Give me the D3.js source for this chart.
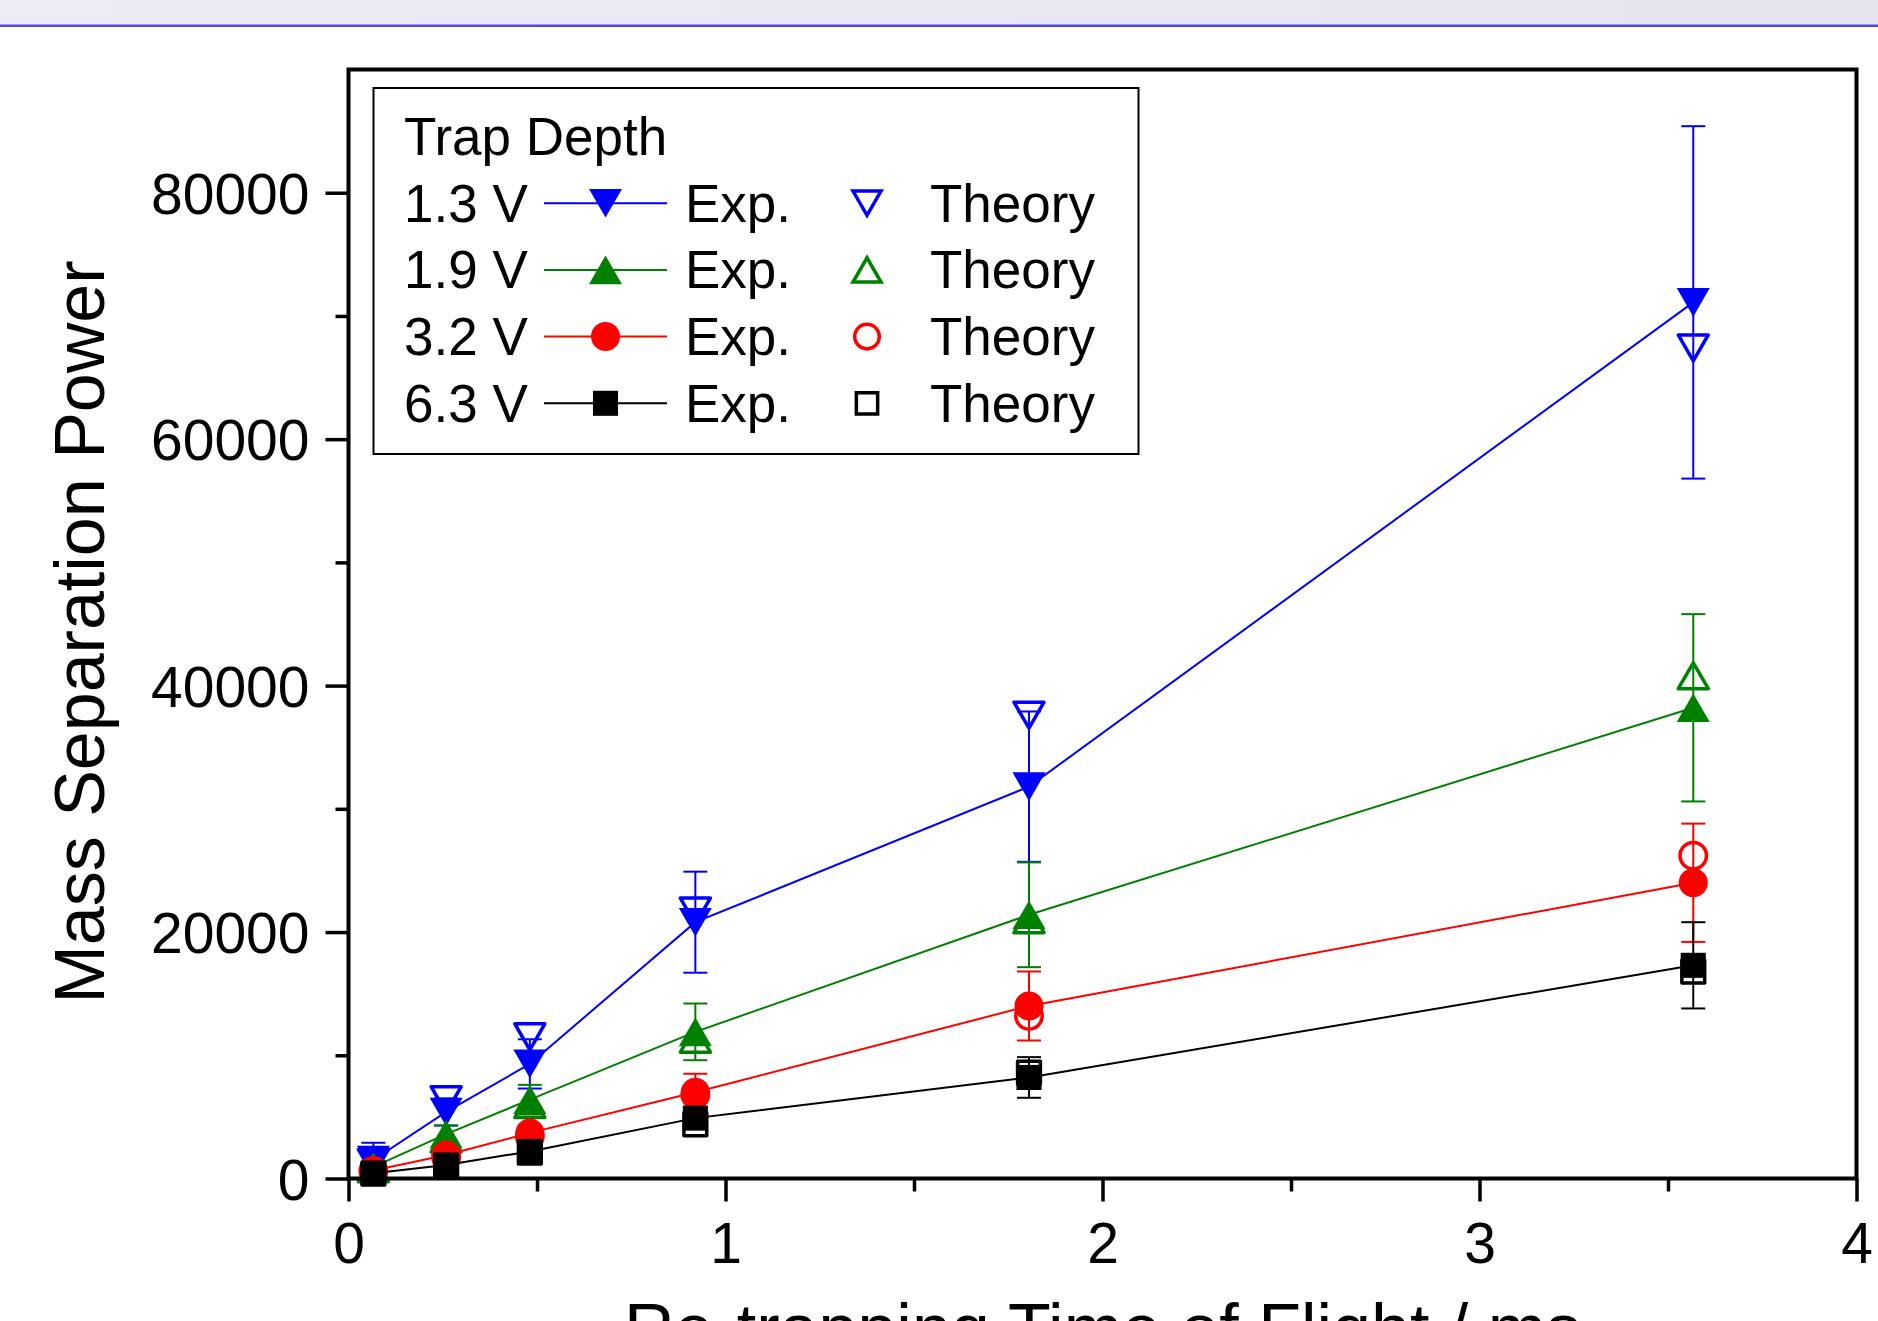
<!DOCTYPE html>
<html>
<head>
<meta charset="utf-8">
<script src="https://cdn.jsdelivr.net/npm/d3@7/dist/d3.min.js"></script>
<style>
  html, body { margin: 0; padding: 0; background: #fff; }
  svg { display: block; }
  text { font-family: "Liberation Sans", Arial, sans-serif; fill: #000; }
</style>
</head>
<body>
<svg id="chart" width="1878" height="1321"></svg>
<script>
// re-trapping time of flight (ms)
var tof = [0.066, 0.259, 0.481, 0.92, 1.805, 3.567];

// 1.3 V
var exp13 = [1500, 5400, 9300, 20800, 31800, 71100];
var err13 = [1400, 1100, 2000, 4100, 6100, 14300];
var theory13 = [1300, 6400, 11500, 21700, 37600, 67400];
// 1.9 V
var exp19 = [950, 3600, 6400, 11900, 21400, 38200];
var err19 = [500, 700, 1200, 2300, 4250, 7600];
var theory19 = [800, 3200, 6000, 11300, 21000, 40800];
// 3.2 V
var exp32 = [650, 1900, 3700, 7000, 14000, 24000];
var err32 = [300, 400, 500, 1500, 2800, 4800];
var theory32 = [600, 1700, 3400, 6800, 13200, 26200];
// 6.3 V
var exp63 = [420, 1100, 2200, 4900, 8200, 17300];
var err63 = [200, 300, 400, 700, 1650, 3500];
var theory63 = [400, 1000, 2100, 4400, 8600, 16800];

var depthLabels = ['1.3 V', '1.9 V', '3.2 V', '6.3 V'];
var xTicks = [0, 1, 2, 3, 4];
var xMinor = [0.5, 1.5, 2.5, 3.5];
var yTicks = [0, 20000, 40000, 60000, 80000];
var yMinor = [10000, 30000, 50000, 70000];

var series = [
  {label: depthLabels[0], exp: exp13, err: err13, theory: theory13, color: '#0000ff', shape: 'down'},
  {label: depthLabels[1], exp: exp19, err: err19, theory: theory19, color: '#008000', shape: 'up'},
  {label: depthLabels[2], exp: exp32, err: err32, theory: theory32, color: '#ff0000', shape: 'circle'},
  {label: depthLabels[3], exp: exp63, err: err63, theory: theory63, color: '#000000', shape: 'square'}
];

var svg = d3.select('#chart');
var W = 1878, H = 1321;
var margin = {left: 348.5, right: 1856.5, top: 69.5, bottom: 1178.5};

// header band
var grad = svg.append('defs').append('linearGradient')
    .attr('id', 'band').attr('x1', 0).attr('x2', 1).attr('y1', 0).attr('y2', 0);
grad.append('stop').attr('offset', '0%').attr('stop-color', '#ececf6');
grad.append('stop').attr('offset', '100%').attr('stop-color', '#e5e5f0');
svg.append('rect').attr('x', 0).attr('y', 0).attr('width', W).attr('height', 25)
    .style('fill', 'url(#band)');
svg.append('rect').attr('x', 0).attr('y', 24.5).attr('width', W).attr('height', 2.5)
    .style('fill', '#5646ee');

var x = d3.scaleLinear().domain([0, 4]).range([margin.left, margin.right]);
var y = d3.scaleLinear().domain([0, 90000]).range([margin.bottom, margin.top]);

// marker paths, centred on their bounding box like Origin does
function markerPath(shape, s) {
  var w, h;
  switch (shape) {
    case 'down':
      w = s; h = s * 0.866;
      return 'M' + (-w / 2) + ',' + (-h / 2) + 'L' + (w / 2) + ',' + (-h / 2) + 'L0,' + (h / 2) + 'Z';
    case 'up':
      w = s; h = s * 0.866;
      return 'M' + (-w / 2) + ',' + (h / 2) + 'L' + (w / 2) + ',' + (h / 2) + 'L0,' + (-h / 2) + 'Z';
    case 'circle':
      var r = s * 0.44;
      return 'M' + (-r) + ',0A' + r + ',' + r + ' 0 1,0 ' + r + ',0A' + r + ',' + r + ' 0 1,0 ' + (-r) + ',0Z';
    case 'square':
      w = s * 0.76;
      return 'M' + (-w / 2) + ',' + (-w / 2) + 'h' + w + 'v' + w + 'h' + (-w) + 'Z';
  }
}

var plot = svg.append('g').attr('class', 'plot');
var line = d3.line()
  .x(function(d) { return x(d.t); })
  .y(function(d) { return y(d.v); });

series.forEach(function(s) {
  var pts = tof.map(function(t, i) {
    return {t: t, v: s.exp[i], e: s.err[i], th: s.theory[i]};
  });
  var g = plot.append('g');

  g.append('path')
    .attr('d', line(pts))
    .style('fill', 'none')
    .style('stroke', s.color)
    .style('stroke-width', 2);

  var eb = g.selectAll('g.err').data(pts).enter().append('g').attr('class', 'err');
  eb.append('line')
    .attr('x1', function(d) { return x(d.t); })
    .attr('x2', function(d) { return x(d.t); })
    .attr('y1', function(d) { return y(d.v + d.e); })
    .attr('y2', function(d) { return y(d.v - d.e); });
  eb.append('line')
    .attr('x1', function(d) { return x(d.t) - 12; })
    .attr('x2', function(d) { return x(d.t) + 12; })
    .attr('y1', function(d) { return y(d.v + d.e); })
    .attr('y2', function(d) { return y(d.v + d.e); });
  eb.append('line')
    .attr('x1', function(d) { return x(d.t) - 12; })
    .attr('x2', function(d) { return x(d.t) + 12; })
    .attr('y1', function(d) { return y(d.v - d.e); })
    .attr('y2', function(d) { return y(d.v - d.e); });
  eb.selectAll('line').style('stroke', s.color).style('stroke-width', 2);

  g.selectAll('path.th').data(pts).enter().append('path')
    .attr('class', 'th')
    .attr('transform', function(d) { return 'translate(' + x(d.t) + ',' + y(d.th) + ')'; })
    .attr('d', markerPath(s.shape, 30))
    .style('fill', 'none')
    .style('stroke', s.color)
    .style('stroke-width', 3.5)
    .style('stroke-linejoin', 'round');

  g.selectAll('path.ex').data(pts).enter().append('path')
    .attr('class', 'ex')
    .attr('transform', function(d) { return 'translate(' + x(d.t) + ',' + y(d.v) + ')'; })
    .attr('d', markerPath(s.shape, 33))
    .style('fill', s.color)
    .style('stroke', 'none');
});

// axes
var xAxis = svg.append('g')
    .attr('transform', 'translate(0,' + margin.bottom + ')')
    .call(d3.axisBottom(x).tickValues(xTicks).tickSize(23).tickPadding(20)
      .tickFormat(d3.format('d')));
svg.append('g')
    .attr('transform', 'translate(0,' + margin.bottom + ')')
    .call(d3.axisBottom(x).tickValues(xMinor).tickSize(13).tickFormat(''));

var yAxis = svg.append('g')
    .attr('transform', 'translate(' + margin.left + ',0)')
    .call(d3.axisLeft(y).tickValues(yTicks).tickSize(23).tickPadding(16)
      .tickFormat(d3.format('d')));
svg.append('g')
    .attr('transform', 'translate(' + margin.left + ',0)')
    .call(d3.axisLeft(y).tickValues(yMinor).tickSize(13).tickFormat(''));

svg.selectAll('.domain').remove();
svg.selectAll('.tick line').style('stroke', '#000').style('stroke-width', 3.5);
svg.selectAll('.tick text')
    .style('font-family', '"Liberation Sans", Arial, sans-serif')
    .style('font-size', '57px')
    .style('fill', '#000');
yAxis.selectAll('.tick text').attr('dy', '0.36em');
xAxis.selectAll('.tick text').attr('dy', '0.72em');

// frame
svg.append('rect')
    .attr('x', margin.left).attr('y', margin.top)
    .attr('width', margin.right - margin.left)
    .attr('height', margin.bottom - margin.top)
    .style('fill', 'none').style('stroke', '#000').style('stroke-width', 4);

// axis titles
svg.append('text')
    .attr('transform', 'translate(104,' + ((margin.top + margin.bottom) / 2 + 8) + ') rotate(-90)')
    .attr('text-anchor', 'middle')
    .style('font-size', '70px')
    .text('Mass Separation Power');
svg.append('text')
    .attr('x', (margin.left + margin.right) / 2)
    .attr('y', 1353)
    .attr('text-anchor', 'middle')
    .style('font-size', '70px')
    .text('Re-trapping Time of Flight / ms');

// legend
var legend = svg.append('g').attr('class', 'legend');
legend.append('rect')
    .attr('x', 373.5).attr('y', 88).attr('width', 765).attr('height', 366)
    .style('fill', '#fff').style('stroke', '#000').style('stroke-width', 2);
legend.append('text')
    .attr('x', 404).attr('y', 155)
    .style('font-size', '53px')
    .text('Trap Depth');

var row = legend.selectAll('g.row').data(series).enter().append('g')
    .attr('class', 'row')
    .attr('transform', function(d, i) { return 'translate(0,' + (221.7 + i * 66.7) + ')'; });
row.append('text').attr('x', 404).style('font-size', '53px')
    .text(function(d) { return d.label; });
row.append('line')
    .attr('x1', 544).attr('x2', 667).attr('y1', -18.5).attr('y2', -18.5)
    .style('stroke', function(d) { return d.color; })
    .style('stroke-width', 2);
row.append('path')
    .attr('transform', 'translate(605.5,-18.5)')
    .attr('d', function(d) { return markerPath(d.shape, 33); })
    .style('fill', function(d) { return d.color; });
row.append('text').attr('x', 685).style('font-size', '53px').text('Exp.');
row.append('path')
    .attr('transform', 'translate(867,-18.5)')
    .attr('d', function(d) { return markerPath(d.shape, 28); })
    .style('fill', 'none')
    .style('stroke', function(d) { return d.color; })
    .style('stroke-width', 3.5);
row.append('text').attr('x', 930).style('font-size', '53px').text('Theory');
</script>
</body>
</html>
